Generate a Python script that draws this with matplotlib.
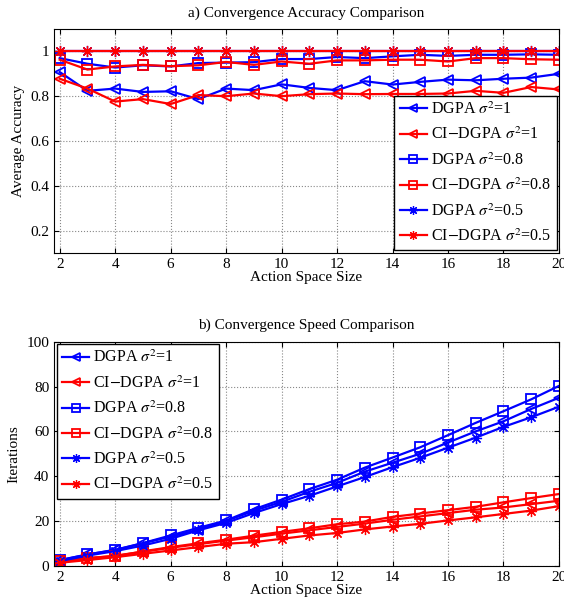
import numpy as np
import matplotlib
matplotlib.use("Agg")
from matplotlib import pyplot as plt

plt.rcParams['font.family'] = ['Liberation Serif', 'DejaVu Serif']
plt.rcParams['mathtext.fontset'] = 'stix'

x = np.arange(2, 21)

# a) accuracy
acc_dgpa_1 = [0.908, 0.824, 0.834, 0.819, 0.822, 0.787, 0.834, 0.827, 0.853, 0.837,
              0.827, 0.867, 0.852, 0.864, 0.874, 0.871, 0.878, 0.883, 0.900]
acc_ci_1 = [0.878, 0.834, 0.776, 0.787, 0.765, 0.805, 0.800, 0.812, 0.800, 0.809,
            0.812, 0.809, 0.810, 0.810, 0.812, 0.824, 0.815, 0.841, 0.830]
acc_dgpa_08 = [0.970, 0.945, 0.928, 0.938, 0.933, 0.948, 0.950, 0.952, 0.966, 0.966,
               0.975, 0.970, 0.978, 0.985, 0.980, 0.985, 0.985, 0.987, 0.985]
acc_ci_08 = [0.963, 0.919, 0.933, 0.940, 0.934, 0.938, 0.953, 0.940, 0.955, 0.945,
             0.960, 0.960, 0.963, 0.963, 0.955, 0.970, 0.970, 0.965, 0.963]
acc_dgpa_05 = [1.0] * 19
acc_ci_05 = [1.0] * 19

# b) iterations
it_dgpa_1 = [2.5, 5, 7, 10, 13, 16, 20, 24.5, 28.5, 33, 37, 42, 46, 50, 55, 60, 64.5, 70, 75]
it_ci_1 = [1.8, 3.2, 4.5, 6.2, 8, 9.6, 11.2, 12.7, 14.3, 15.8, 17.3, 18.8, 20.5, 22, 23.5,
           25, 26, 27.5, 29]
it_dgpa_08 = [2.4, 5, 7.1, 10.1, 13.5, 16.9, 20.2, 25.2, 29.5, 34.2, 38.4, 43.8, 48.3,
              52.9, 58.3, 63.8, 69, 74.3, 80.3]
it_ci_08 = [2, 3.5, 4.2, 6.4, 8.3, 10, 11.6, 13.4, 15.1, 16.7, 18.5, 19.7, 21.8, 23.3,
            24.8, 26.3, 28.3, 30.2, 32]
it_dgpa_05 = [2, 4.5, 6.5, 9, 12, 15.8, 19.1, 23.5, 27.5, 31.2, 35.4, 39.6, 44, 48.2,
              52.7, 57.2, 62, 66.3, 71]
it_ci_05 = [1.3, 2.5, 3.8, 5.3, 6.8, 8.3, 9.8, 10.5, 12, 13.5, 14.6, 16.2, 17.5, 18.7,
            20.2, 21.6, 23.1, 24.6, 26.6]

labels = [r'DGPA $\sigma^2$=1', r'CI$-$DGPA $\sigma^2$=1',
          r'DGPA $\sigma^2$=0.8', r'CI$-$DGPA $\sigma^2$=0.8',
          r'DGPA $\sigma^2$=0.5', r'CI$-$DGPA $\sigma^2$=0.5']
colors = ['#0000ff', '#ff0000'] * 3
markers = ['<', '<', 's', 's', (8, 2, 0), (8, 2, 0)]

fig = plt.figure(figsize=(5.64, 6.05), dpi=100)
ax1 = fig.add_axes([0.096, 0.582, 0.895, 0.370])
ax2 = fig.add_axes([0.096, 0.065, 0.895, 0.370])


def draw(ax, series):
    for s, lab, c, m in zip(series, labels, colors, markers):
        if m == 's':
            ms, mew = 6.5, 1.3
        elif m == '<':
            ms, mew = 7.5, 1.3
        else:
            ms, mew = 8, 0.9
        ax.plot(x, s, color=c, marker=m, markersize=ms, fillstyle='none',
                markeredgewidth=mew, linewidth=1.6, label=lab)
    ax.set_xlim(1.8, 20)
    ax.set_xticks(range(2, 21, 2))
    ax.grid(True, linestyle=':', color='#888888', linewidth=0.8)
    ax.tick_params(direction='in', labelsize=11, top=True, right=True)
    ax.set_xlabel('Action Space Size', fontsize=11, labelpad=0)
    for sp in ax.spines.values():
        sp.set_linewidth(0.8)


def add_legend(ax, loc):
    leg = ax.legend(loc=loc, fontsize=11.5, fancybox=False, edgecolor='black',
                    framealpha=1, handlelength=1.7, labelspacing=0.55,
                    borderaxespad=0.15, handletextpad=0.25, markerscale=0.8,
                    borderpad=0.35)
    leg.get_frame().set_linewidth(1.0)


draw(ax1, [acc_dgpa_1, acc_ci_1, acc_dgpa_08, acc_ci_08, acc_dgpa_05, acc_ci_05])
ax1.set_ylim(0.1, 1.1)
ax1.set_yticks([0.2, 0.4, 0.6, 0.8, 1])
ax1.set_yticklabels(['0.2', '0.4', '0.6', '0.8', '1'])
ax1.set_ylabel('Average Accuracy', fontsize=11)
ax1.set_title('a) Convergence Accuracy Comparison', fontsize=11, pad=9)
add_legend(ax1, 'lower right')

draw(ax2, [it_dgpa_1, it_ci_1, it_dgpa_08, it_ci_08, it_dgpa_05, it_ci_05])
ax2.set_ylim(0, 100)
ax2.set_yticks(range(0, 101, 20))
ax2.set_ylabel('Iterations', fontsize=11)
ax2.set_title('b) Convergence Speed Comparison', fontsize=11, pad=9)
add_legend(ax2, 'upper left')

fig.savefig('out.png', dpi=100)
